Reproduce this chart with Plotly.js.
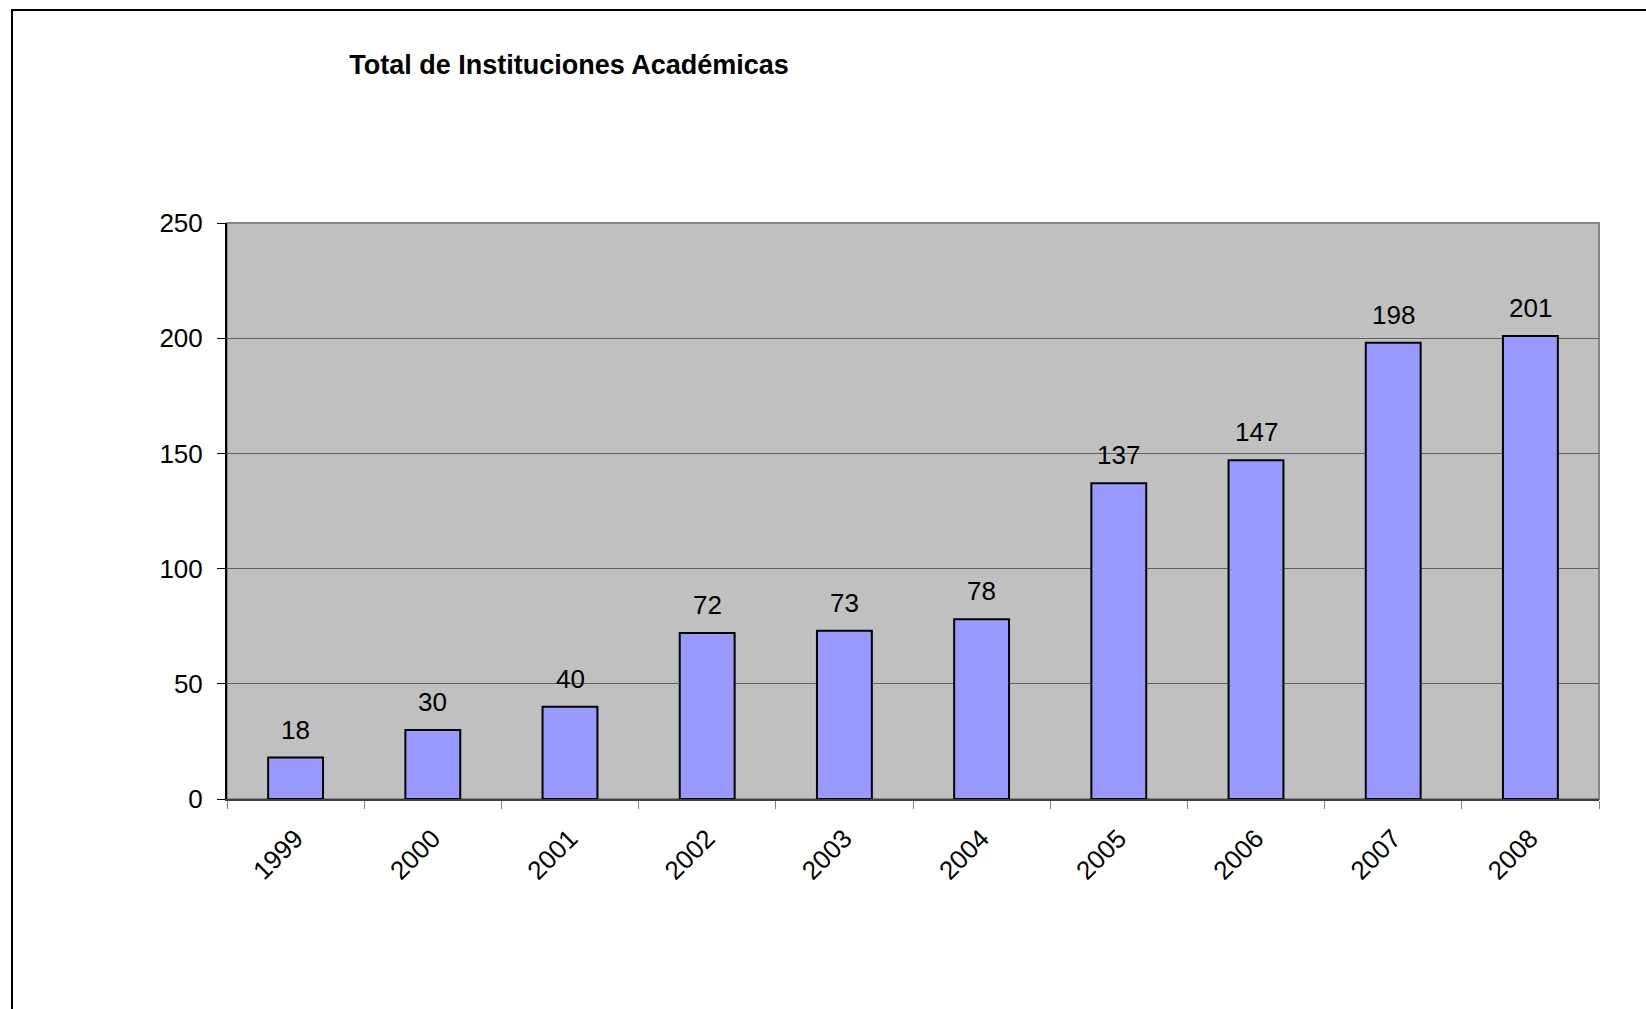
<!DOCTYPE html>
<html>
<head>
<meta charset="utf-8">
<script src="https://cdn.plot.ly/plotly-3.0.1.min.js"></script>
<style>
  html, body { margin: 0; padding: 0; background: #fff; overflow: hidden; }
  #chart { width: 1646px; height: 1009px; position: absolute; left: 0; top: 0; }
  #frame { position: absolute; left: 11px; top: 9px; width: 1700px; height: 1100px;
           border-left: 2px solid #000; border-top: 2px solid #000; pointer-events: none; }
</style>
</head>
<body>
<div id="chart"></div>
<div id="frame"></div>
<script>
const years = ['1999', '2000', '2001', '2002', '2003', '2004', '2005', '2006', '2007', '2008'];
const totals = [18, 30, 40, 72, 73, 78, 137, 147, 198, 201];
const chartTitle = 'Total de Instituciones Académicas';
const yTickValues = [0, 50, 100, 150, 200, 250];

const W = 1646, H = 1009;
const plotLeft = 227, plotRight = 1599, plotTop = 223, plotBottom = 799;
const FONT = '"Liberation Sans", Arial, sans-serif';
const FS = 26;

const trace = {
  type: 'bar',
  x: years,
  y: totals,
  marker: { color: '#9999FF', line: { color: '#000000', width: 2 } },
  hoverinfo: 'x+y',
  showlegend: false
};

// category axis: annotations positioned by category index
const annotations = years.map((yr, i) => ({
  x: i, y: totals[i], xref: 'x', yref: 'y',
  text: String(totals[i]), showarrow: false,
  xanchor: 'center', yanchor: 'bottom', yshift: 11,
  font: { family: FONT, size: FS, color: '#000' }
}));

const layout = {
  width: W, height: H,
  paper_bgcolor: '#ffffff',
  plot_bgcolor: '#C0C0C0',
  margin: { l: plotLeft, r: W - plotRight, t: plotTop, b: H - plotBottom, pad: 0 },
  font: { family: FONT, size: FS, color: '#000' },
  title: {
    text: '<b>' + chartTitle + '</b>',
    font: { family: FONT, size: 27, color: '#000' },
    xref: 'container', yref: 'container',
    x: 569 / W, xanchor: 'center',
    y: 1 - 65 / H, yanchor: 'middle'
  },
  bargap: 0.6,
  xaxis: {
    type: 'category',
    categoryorder: 'array', categoryarray: years,
    range: [-0.5, years.length - 0.5],
    autorange: false,
    tickangle: -45,
    tickson: 'boundaries',
    ticks: 'outside', ticklen: 8, tickwidth: 1, tickcolor: '#808080',
    showline: true, linecolor: '#404040', linewidth: 2,
    showgrid: false, zeroline: false,
    ticklabelstandoff: 12,
    tickfont: { family: FONT, size: FS, color: '#000' },
    fixedrange: true
  },
  yaxis: {
    range: [0, 250],
    autorange: false,
    tickvals: yTickValues,
    ticktext: yTickValues.map(String),
    ticks: 'outside', ticklen: 8, tickwidth: 1, tickcolor: '#000',
    showline: true, linecolor: '#000', linewidth: 2,
    showgrid: true, gridcolor: '#606060', gridwidth: 1,
    zeroline: false,
    ticklabelstandoff: 9,
    tickfont: { family: FONT, size: FS, color: '#000' },
    fixedrange: true
  },
  shapes: [{
    type: 'rect', xref: 'paper', yref: 'paper',
    x0: 0, x1: 1, y0: 0, y1: 1,
    line: { color: '#868686', width: 2 },
    layer: 'below'
  }],
  annotations: annotations
};

Plotly.newPlot('chart', [trace], layout, { displayModeBar: false, staticPlot: true });
</script>
</body>
</html>
